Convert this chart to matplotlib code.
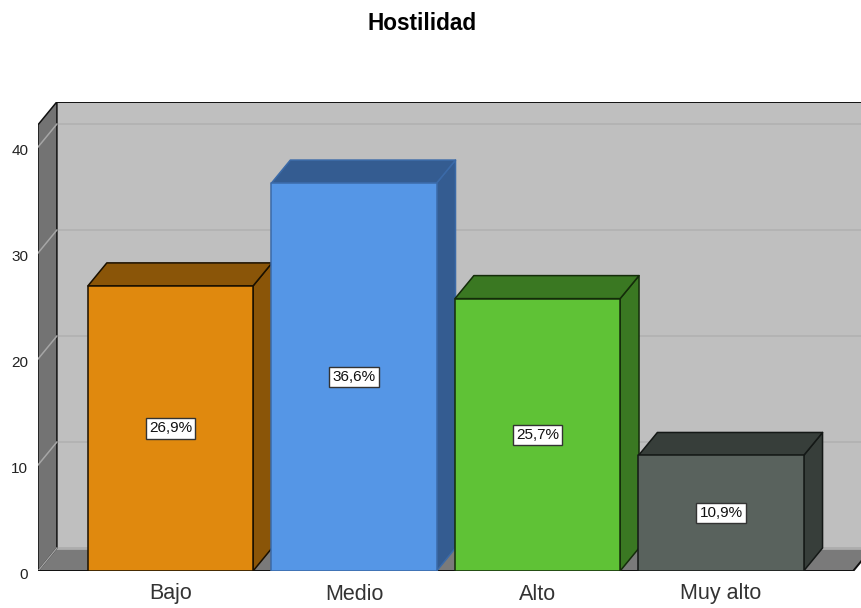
import matplotlib
matplotlib.use('Agg')
import matplotlib.pyplot as plt
from matplotlib.patches import Polygon
from matplotlib.transforms import ScaledTranslation

categories = ['Bajo', 'Medio', 'Alto', 'Muy alto']
values = [26.9, 36.6, 25.7, 10.9]
labels = ['26,9%', '36,6%', '25,7%', '10,9%']
y_ticks = [0, 10, 20, 30, 40]

face_colors = ['#e0890e', '#5596e6', '#5fc236', '#59625d']
side_colors = ['#8a5508', '#345c91', '#3a7822', '#373e3a']
edge_colors = ['#1a1000', '#3b6aa8', '#142c0a', '#141816']

plt.rcParams['font.family'] = ['Liberation Sans', 'DejaVu Sans']

W, H = 862, 608
fig = plt.figure(figsize=(W / 100, H / 100), dpi=100)
ax = fig.add_axes([38 / W, (H - 571) / H, (W - 38) / W, (571 - 102) / H])

# 3D look: depth offset of the back plane in data units
dx = 0.103
dy = 2.17
bar_w = 0.9
x_left = -0.722
x_right = 3.72
y_top = 42.1


def poly(pts, face, edge='none', lw=1.1, z=1):
    ax.add_patch(Polygon(pts, closed=True, facecolor=face, edgecolor=edge, linewidth=lw,
                         zorder=z, joinstyle='round', clip_on=True))


ax.set_xlim(x_left, 3.768)
ax.set_ylim(0, 44.25)

# back wall, floor, side wall
poly([(x_left + dx, dy), (4.0, dy), (4.0, y_top + dy), (x_left + dx, y_top + dy)], '#bfbfbf')
poly([(x_left, 0), (x_left + dx, dy), (4.0, dy), (x_right + dx, dy), (x_right, 0)], '#7a7a7a')
poly([(x_left, 0), (x_left + dx, dy), (x_left + dx, y_top + dy), (x_left, y_top)], '#737373',
     edge='#111111', z=2)

for t in y_ticks[1:]:
    ax.plot([x_left + dx, 4.0], [t + dy, t + dy], color='#b2b2b2', lw=1.3, zorder=1.5)
    ax.plot([x_left, x_left + dx], [t, t + dy], color='#a6a6a6', lw=1.1, zorder=3)
ax.plot([x_left, x_left + dx], [0, dy], color='#a6a6a6', lw=1.0, zorder=3)
ax.plot([x_left + dx, 4.0], [dy, dy], color='#adadad', lw=2, zorder=1.6)
ax.plot([x_left + dx, 4.0], [y_top + dy, y_top + dy], color='#111111', lw=1.4, zorder=3)
ax.plot([x_left, x_right, x_right + dx], [0, 0, dy], color='#111111', lw=1.4, zorder=3)

for i, v in enumerate(values):
    x0, x1 = i - bar_w / 2, i + bar_w / 2
    z = 5 + i
    poly([(x1, 0), (x1 + dx, dy), (x1 + dx, v + dy), (x1, v)], side_colors[i], edge_colors[i], z=z)
    poly([(x0, v), (x0 + dx, v + dy), (x1 + dx, v + dy), (x1, v)], side_colors[i], edge_colors[i], z=z)
    poly([(x0, 0), (x1, 0), (x1, v), (x0, v)], face_colors[i], edge_colors[i], z=z + 0.1)
    ax.text(i, v / 2, labels[i], ha='center', va='center', fontsize=11, color='#111111', zorder=20,
            bbox=dict(boxstyle='square,pad=0.2', facecolor='white', edgecolor='#333333', linewidth=1))

ax.set_xticks(range(len(categories)))
ax.set_xticklabels(categories, fontsize=15.5, color='#333333')
ax.set_yticks(y_ticks)
ax.set_yticklabels(y_ticks, fontsize=11, color='#222222')
ax.tick_params(length=0, pad=9, axis='x')
ax.tick_params(length=0, pad=7, axis='y')
# y labels sit slightly below their gridline ends
shift = ScaledTranslation(0, -2 / 72, fig.dpi_scale_trans)
for lab in ax.get_yticklabels():
    lab.set_transform(lab.get_transform() + shift)
for s in ax.spines.values():
    s.set_visible(False)

fig.text(422.5 / W, 1 - 24 / H, 'Hostilidad', ha='center', va='center', fontsize=16.3,
         fontweight='bold', color='black')

fig.savefig('out.png', dpi=100)
